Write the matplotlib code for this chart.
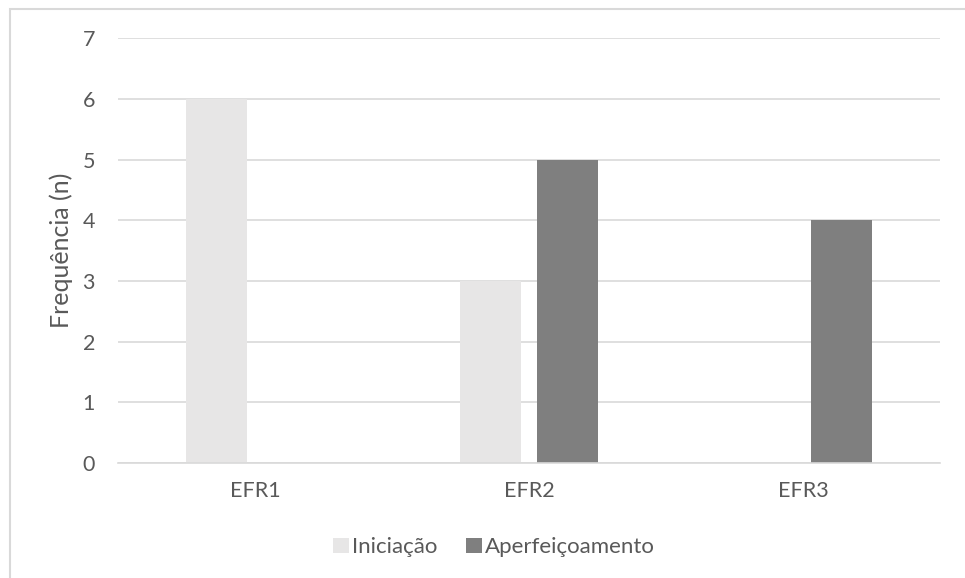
import matplotlib
matplotlib.use("Agg")
import matplotlib.pyplot as plt
import numpy as np
from matplotlib.patches import Rectangle

categories = ["EFR1", "EFR2", "EFR3"]
iniciacao = [6, 3, 0]
aperfeicoamento = [0, 5, 4]
yticks = [0, 1, 2, 3, 4, 5, 6, 7]

plt.rcParams["font.family"] = ["Lato", "DejaVu Sans"]
TXT = "#595959"
GRID = "#D9D9D9"
FS = 15.5

fig = plt.figure(figsize=(9.65, 5.78), dpi=100)
ax = fig.add_axes([0.1223, 0.199, 0.8518, 0.735])

x = np.arange(len(categories))
w = 0.223
off = 0.142
ax.bar(x - off, iniciacao, w, color="#E7E6E6", label="Iniciação", zorder=2)
ax.bar(x + off, aperfeicoamento, w, color="#7F7F7F", label="Aperfeiçoamento", zorder=2)

ax.set_xlim(-0.5, 2.5)
ax.set_ylim(0, 7)
ax.set_yticks(yticks)
ax.set_xticks(x, categories)
ax.yaxis.grid(True, color=GRID, lw=1.2, zorder=0)
ax.set_axisbelow(True)
for s in ["top", "right", "left"]:
    ax.spines[s].set_visible(False)
ax.spines["bottom"].set_color(GRID)
ax.spines["bottom"].set_linewidth(1.2)
ax.tick_params(axis="both", length=0, colors=TXT, labelsize=FS)
ax.tick_params(axis="y", pad=16.5)
ax.tick_params(axis="x", pad=13)
ax.set_ylabel("Frequência (n)", color=TXT, fontsize=18)
ax.yaxis.set_label_coords(-0.0547, 0.5)

ax.legend(loc="center", bbox_to_anchor=(0.512, 0.053), bbox_transform=fig.transFigure,
          ncol=2, frameon=False, fontsize=16, labelcolor=TXT, handlelength=0.7,
          handleheight=0.7, handletextpad=0.15, columnspacing=1.3)

# outer chart frame
fig.patches.append(Rectangle((10 / 965, -0.1), 1.2, 1 - 9 / 578 + 0.1, transform=fig.transFigure,
                             fill=False, edgecolor=GRID, lw=1.5))

fig.savefig("out.png", dpi=100)
